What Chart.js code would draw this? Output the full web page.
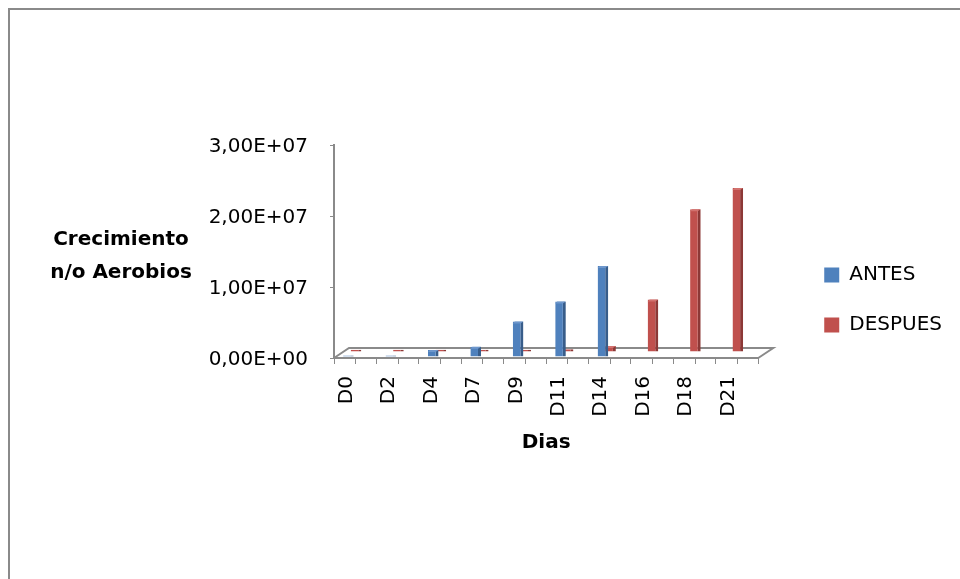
<!DOCTYPE html>
<html lang="es">
<head>
    <meta charset="UTF-8">
    <title>Crecimiento n/o Aerobios</title>
    <script src="https://cdn.jsdelivr.net/npm/chart.js"></script>
    <style>
        html, body { margin: 0; background: #fff; overflow: hidden; width: 960px; height: 579px; }
        .marco {
            position: absolute; left: 8px; top: 8px; width: 950px; height: 569px;
            border-top: 2px solid #8a8a8a; border-left: 2px solid #8a8a8a;
        }
        #grafico { position: absolute; left: 0; top: 0; }
    </style>
</head>
<body>
<div class="marco"></div>
<canvas id="grafico" width="960" height="579"></canvas>
<script>
    // datos
    const dias = ['D0', 'D2', 'D4', 'D7', 'D9', 'D11', 'D14', 'D16', 'D18', 'D21'];
    const antes = [2e5, 2e5, 1.0e6, 1.45e6, 5.0e6, 7.8e6, 1.28e7, null, null, null];
    const despues = [3e5, 3e5, 3e5, 3e5, 3e5, 4e5, 8.5e5, 7.4e6, 2.01e7, 2.31e7];
    const ticksY = [0, 1e7, 2e7, 3e7];

    const fuente = 'DejaVu Sans';
    const gris = '#8a8a8a';

    // 3,00E+07 estilo Excel
    function sci(v) {
        if (v === 0) return '0,00E+00';
        const e = Math.floor(Math.log10(Math.abs(v)));
        const m = v / Math.pow(10, e);
        return m.toFixed(2).replace('.', ',') + 'E' + (e < 0 ? '-' : '+') + String(Math.abs(e)).padStart(2, '0');
    }

    // desplaza cada serie un poco para simular la profundidad 3D
    const desplazamiento = [[-1.5, -1], [-4.5, -6]];
    const colorTapa = ['#6E97CC', '#D2716E'];

    const profundidad = {
        id: 'profundidad',
        beforeDatasetsDraw(chart) {
            const a = chart.chartArea;
            const ctx = chart.ctx;
            ctx.save();
            ctx.strokeStyle = gris;
            ctx.lineWidth = 2;
            ctx.beginPath();
            ctx.moveTo(a.left, a.bottom);
            ctx.lineTo(a.left + 15, a.bottom - 10);
            ctx.lineTo(a.right + 15, a.bottom - 10);
            ctx.lineTo(a.right, a.bottom);
            ctx.stroke();
            ctx.restore();
        },
        beforeDatasetDraw(chart, args) {
            const d = desplazamiento[args.index];
            chart.ctx.save();
            chart.ctx.translate(d[0], d[1]);
        },
        afterDatasetDraw(chart, args) {
            // tapa superior de cada barra
            const ctx = chart.ctx;
            ctx.fillStyle = colorTapa[args.index];
            args.meta.data.forEach(bar => {
                const p = bar.getProps(['x', 'y', 'base', 'width']);
                if (p.y == null || isNaN(p.y) || p.base - p.y < 3) return;
                const l = p.x - p.width / 2;
                const r = p.x + p.width / 2;
                ctx.beginPath();
                ctx.moveTo(l, p.y + 2);
                ctx.lineTo(l + 2, p.y);
                ctx.lineTo(r, p.y);
                ctx.lineTo(r - 3, p.y + 2);
                ctx.closePath();
                ctx.fill();
            });
            ctx.restore();
        },
        afterDraw(chart) {
            const ctx = chart.ctx;
            const a = chart.chartArea;
            const x = chart.scales.x;
            ctx.save();
            // marcas intermedias del eje x
            ctx.strokeStyle = gris;
            ctx.lineWidth = 1;
            ctx.beginPath();
            dias.forEach((d, i) => {
                const px = Math.round(x.getPixelForValue(i)) + 0.5;
                ctx.moveTo(px, a.bottom);
                ctx.lineTo(px, a.bottom + 6);
            });
            ctx.stroke();
            // titulo del eje y, horizontal
            ctx.fillStyle = '#000';
            ctx.font = 'bold 20px "' + fuente + '"';
            ctx.textAlign = 'center';
            ctx.textBaseline = 'alphabetic';
            ctx.fillText('Crecimiento', a.left - 213, a.top + 100);
            ctx.fillText('n/o Aerobios', a.left - 213, a.top + 133);
            ctx.restore();
        }
    };

    const ctx = document.getElementById('grafico').getContext('2d');

    new Chart(ctx, {
        type: 'bar',
        data: {
            labels: dias,
            datasets: [{
                label: 'ANTES',
                data: antes,
                backgroundColor: '#4F81BD',
                borderColor: '#385D8A',
                borderWidth: { top: 0, right: 3, bottom: 0, left: 0 },
                borderSkipped: false
            }, {
                label: 'DESPUES',
                data: despues,
                backgroundColor: '#C0504D',
                borderColor: '#8C3836',
                borderWidth: { top: 0, right: 3, bottom: 0, left: 0 },
                borderSkipped: false
            }]
        },
        options: {
            responsive: false,
            animation: false,
            categoryPercentage: 0.5,
            barPercentage: 1,
            layout: {
                padding: { top: 145, bottom: 124, left: 204, right: 8 }
            },
            plugins: {
                tooltip: { enabled: false },
                legend: {
                    position: 'right',
                    labels: {
                        boxWidth: 15,
                        boxHeight: 15,
                        padding: 30,
                        color: '#000',
                        font: { family: fuente, size: 20 },
                        generateLabels(chart) {
                            const items = Chart.defaults.plugins.legend.labels.generateLabels(chart);
                            items.forEach(it => { it.lineWidth = 0; it.strokeStyle = 'rgba(0,0,0,0)'; });
                            return items;
                        }
                    }
                }
            },
            scales: {
                x: {
                    grid: { drawOnChartArea: false, color: gris, tickLength: 6 },
                    border: { color: gris, width: 2 },
                    ticks: {
                        minRotation: 90,
                        maxRotation: 90,
                        padding: 12,
                        labelOffset: -8.5,
                        color: '#000',
                        font: { family: fuente, size: 20 }
                    },
                    title: {
                        display: true,
                        text: 'Dias',
                        color: '#000',
                        padding: 0,
                        font: { family: fuente, size: 20, weight: 'bold' }
                    },
                    afterFit(s) { s.height = 97; }
                },
                y: {
                    min: 0,
                    max: 3e7,
                    afterBuildTicks(s) { s.ticks = ticksY.map(v => ({ value: v })); },
                    grid: { drawOnChartArea: false, color: gris, tickLength: 4 },
                    border: { color: gris, width: 2 },
                    ticks: {
                        padding: 22,
                        labelOffset: 2,
                        color: '#000',
                        font: { family: fuente, size: 20 },
                        callback: v => sci(v)
                    },
                    afterFit(s) { s.width = 130; }
                },
                // hueco entre el grafico y la leyenda
                hueco: {
                    type: 'linear',
                    position: 'right',
                    display: false,
                    afterFit(s) { s.width = 36; }
                }
            }
        },
        plugins: [profundidad]
    });
</script>
</body>
</html>
